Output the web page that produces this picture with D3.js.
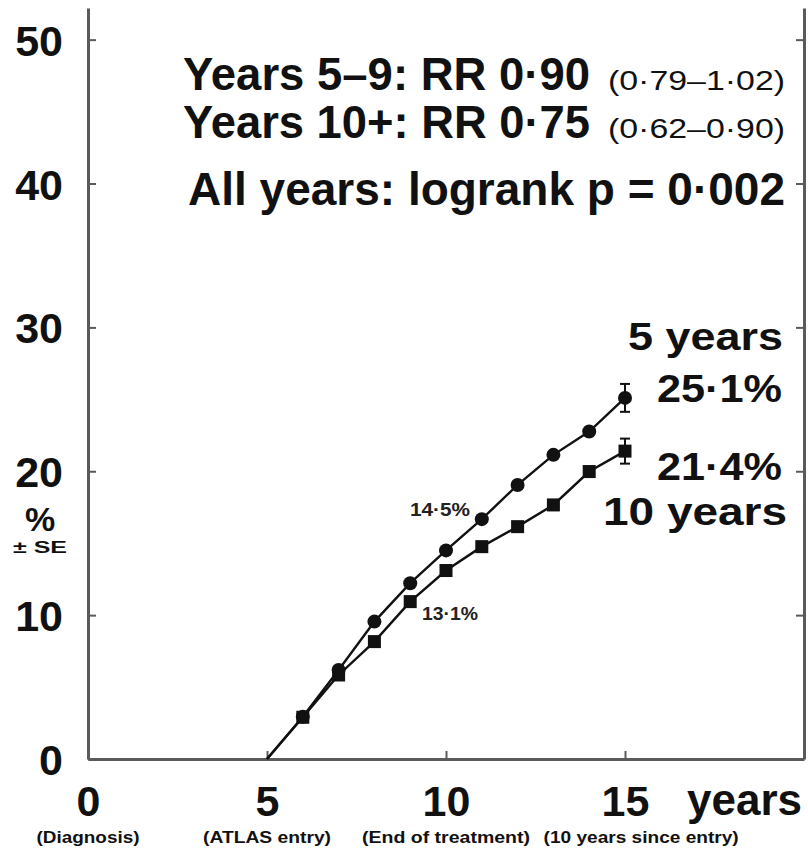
<!DOCTYPE html>
<html>
<head>
<meta charset="utf-8">
<script src="https://cdn.jsdelivr.net/npm/d3@7"></script>
<style>
  html, body { margin: 0; padding: 0; background: #fff; }
  svg { display: block; font-family: "Liberation Sans", Arial, sans-serif; }
</style>
</head>
<body>
<svg id="chart" width="808" height="853"></svg>
<script>
// ---- data ----
const years = [5, 6, 7, 8, 9, 10, 11, 12, 13, 14, 15];
const fiveYears = [0, 2.94, 6.19, 9.55, 12.22, 14.5, 16.67, 19.05, 21.14, 22.76, 25.1];
const tenYears  = [0, 2.9, 5.84, 8.16, 10.94, 13.1, 14.76, 16.15, 17.66, 19.98, 21.4];
const endSE = { five: 0.97, ten: 0.87 };
const yTicks = [0, 10, 20, 30, 40, 50];
const xTickLabels = [0, 5, 10, 15];
const xSubLabels = ["(Diagnosis)", "(ATLAS entry)", "(End of treatment)", "(10 years since entry)"];
const xSubCenters = [0, 5, 10, 15.45];

const svg = d3.select("#chart");
const x = d3.scaleLinear().domain([0, 20]).range([88, 804]);
const y = d3.scaleLinear().domain([0, 52.2]).range([759, 8]);
const ink = "#111";
const axisCol = "#5a5a5a";

// ---- axes ----
const gL = svg.append("g").attr("transform", `translate(${x(0)},0)`)
  .call(d3.axisLeft(y).tickValues(yTicks).tickSizeInner(-8).tickSizeOuter(0).tickPadding(25).tickFormat(d3.format("d")));
const gR = svg.append("g").attr("transform", `translate(${x(20)},0)`)
  .call(d3.axisRight(y).tickValues(yTicks.slice(1)).tickSizeInner(-8).tickSizeOuter(0).tickFormat(""));
const gB = svg.append("g").attr("transform", `translate(0,${y(0)})`)
  .call(d3.axisBottom(x).tickValues(xTickLabels).tickSizeInner(-8).tickSizeOuter(0).tickPadding(26).tickFormat(d3.format("d")));

[gL, gR, gB].forEach(g => {
  g.select(".domain").attr("stroke", axisCol).attr("stroke-width", 3);
  g.selectAll(".tick line").attr("stroke", axisCol).attr("stroke-width", 2);
  g.selectAll(".tick text").attr("fill", ink).attr("font-size", 43)
    .attr("font-weight", "bold").attr("font-family", "Liberation Sans, Arial, sans-serif");
});
gL.selectAll(".tick text").attr("dy", "0.36em");

// x-axis "years"
svg.append("text").attr("x", 687).attr("y", 815)
  .attr("font-size", 44).attr("font-weight", "bold").attr("fill", ink)
  .attr("textLength", 115).attr("lengthAdjust", "spacingAndGlyphs").text("years");

// sub labels
const subW = [103, 128, 168, 195];
svg.selectAll("text.sub").data(xSubLabels).enter().append("text")
  .attr("class", "sub")
  .attr("x", (d, i) => x(xSubCenters[i]))
  .attr("y", 843).attr("text-anchor", "middle")
  .attr("font-size", 17).attr("font-weight", "bold").attr("fill", ink)
  .attr("textLength", (d, i) => subW[i]).attr("lengthAdjust", "spacingAndGlyphs")
  .text(d => d);

// y-axis label
svg.append("text").attr("x", 40).attr("y", 531).attr("text-anchor", "middle")
  .attr("font-size", 34).attr("font-weight", "bold").attr("fill", ink).text("%");
svg.append("text").attr("x", 40).attr("y", 553).attr("text-anchor", "middle")
  .attr("font-size", 17).attr("font-weight", "bold").attr("fill", ink)
  .attr("textLength", 54).attr("lengthAdjust", "spacingAndGlyphs").text("± SE");

// ---- lines ----
const line = d3.line().x((d, i) => x(years[i])).y(d => y(d));
[fiveYears, tenYears].forEach(s => {
  svg.append("path").datum(s).attr("d", line)
    .attr("fill", "none").attr("stroke", ink).attr("stroke-width", 2.4);
});

// error bars at last point
function errBar(val, se) {
  const xx = x(years[years.length - 1]);
  svg.append("line").attr("x1", xx).attr("x2", xx).attr("y1", y(val - se)).attr("y2", y(val + se))
    .attr("stroke", ink).attr("stroke-width", 2);
  [val - se, val + se].forEach(v => svg.append("line")
    .attr("x1", xx - 5).attr("x2", xx + 5).attr("y1", y(v)).attr("y2", y(v))
    .attr("stroke", ink).attr("stroke-width", 2));
}
errBar(fiveYears[fiveYears.length - 1], endSE.five);
errBar(tenYears[tenYears.length - 1], endSE.ten);

// markers (skip the origin point)
const sq = 13;
svg.selectAll("rect.m").data(tenYears.slice(1)).enter().append("rect")
  .attr("x", (d, i) => x(years[i + 1]) - sq / 2).attr("y", d => y(d) - sq / 2)
  .attr("width", sq).attr("height", sq).attr("fill", ink);
svg.selectAll("circle.m").data(fiveYears.slice(1)).enter().append("circle")
  .attr("cx", (d, i) => x(years[i + 1])).attr("cy", d => y(d))
  .attr("r", 7).attr("fill", ink);

// point labels
svg.append("text").attr("x", 410).attr("y", 516).attr("font-size", 19).attr("font-weight", "bold")
  .attr("fill", "#222").attr("textLength", 60).attr("lengthAdjust", "spacingAndGlyphs").text("14·5%");
svg.append("text").attr("x", 422).attr("y", 620).attr("font-size", 19).attr("font-weight", "bold")
  .attr("fill", "#222").attr("textLength", 56).attr("lengthAdjust", "spacingAndGlyphs").text("13·1%");

// ---- annotations top ----
function txt(s, xx, yy, fs, w, weight) {
  svg.append("text").attr("x", xx).attr("y", yy).attr("font-size", fs)
    .attr("font-weight", weight || "bold").attr("fill", ink)
    .attr("textLength", w).attr("lengthAdjust", "spacingAndGlyphs").text(s);
}
txt("Years 5–9: RR 0·90", 183, 90, 46, 407);
txt("(0·79–1·02)", 608, 90, 27, 177, "normal");
txt("Years 10+: RR 0·75", 183, 138, 46, 407);
txt("(0·62–0·90)", 608, 138, 27, 177, "normal");
txt("All years: logrank p = 0·002", 188, 205, 46, 597);

// right labels
txt("5 years", 628, 350, 39, 155);
txt("25·1%", 657, 402, 39, 125);
txt("21·4%", 657, 480, 39, 125);
txt("10 years", 603, 525, 39, 184);
</script>
</body>
</html>
